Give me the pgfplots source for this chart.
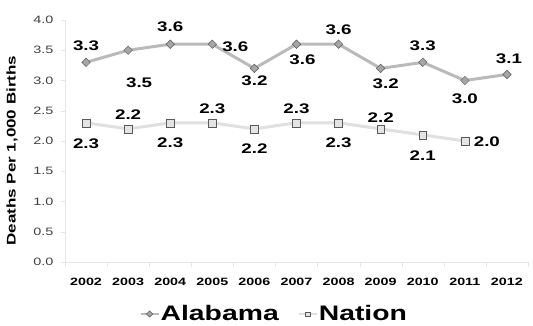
\documentclass[border=0pt]{standalone}
\usepackage{fontspec}
\setmainfont{Liberation Sans}[FakeStretch=1.35]
\usepackage{pgfplots}
\usepackage{pgfplotstable}
\pgfplotsset{compat=1.18}

\definecolor{alline}{HTML}{BABABA}
\definecolor{almark}{HTML}{A6A6A6}
\definecolor{naline}{HTML}{E0E0E0}
\definecolor{namark}{HTML}{E4E4E4}
\definecolor{markedge}{HTML}{5A5A5A}
\definecolor{axisgray}{HTML}{E6E6E6}
\definecolor{ticktext}{HTML}{404040}

% year, rate, label offset (dx, dy in bp)
\pgfplotstableread{
x    y    dx  dy
2002 3.3  0   17
2003 3.5  11  -32
2004 3.6  0   17
2005 3.6  23  -3
2006 3.2  0   -12
2007 3.6  6   -16
2008 3.6  0   14
2009 3.2  5   -15
2010 3.3  0   17
2011 3.0  0   -18
2012 3.1  2   16
}\alabama

\pgfplotstableread{
x    y    dx  dy
2002 2.3  0   -21
2003 2.2  0   14
2004 2.3  0   -20
2005 2.3  0   14
2006 2.2  0   -20
2007 2.3  0   14
2008 2.3  0   -20
2009 2.2  0   11
2010 2.1  0   -21
2011 2.0  22  -1
}\nation

\begin{document}
\begin{tikzpicture}
\path[use as bounding box] (0,0) rectangle (533bp,326bp);
\begin{axis}[
  at={(65bp,64bp)}, anchor=south west,
  width=463bp, height=242bp, scale only axis,
  xmin=2001.5, xmax=2012.5, ymin=0, ymax=4,
  axis x line*=bottom, axis y line*=left,
  axis line style={draw=axisgray, line width=0.8pt, -},
  xtick={2002,...,2012},
  minor xtick={2001.5,2002.5,2003.5,2004.5,2005.5,2006.5,2007.5,2008.5,2009.5,2010.5,2011.5,2012.5},
  ytick={0,0.5,...,4},
  tick align=outside,
  major x tick style={draw=none},
  minor x tick style={draw=axisgray},
  minor tick length=5bp,
  major y tick style={draw=axisgray},
  major tick length=4bp,
  /pgf/number format/assume math mode=true,
  xticklabel style={font=\fontsize{10.6bp}{12bp}\selectfont\bfseries, /pgf/number format/1000 sep={}, anchor=center, yshift=-16bp},
  yticklabel style={font=\fontsize{10.7bp}{12bp}\selectfont, text=ticktext, xshift=-4bp, /pgf/number format/.cd, fixed, fixed zerofill, precision=1},
  ylabel={Deaths Per 1,000 Births},
  every axis y label/.style={at={(rel axis cs:0,0.46)}, rotate=90, anchor=center, yshift=53bp, font=\fontsize{12.6bp}{15bp}\selectfont\bfseries},
  point meta=explicit,
  nodes near coords={\pgfmathprintnumber[fixed,fixed zerofill,precision=1]{\pgfplotspointmeta}},
  visualization depends on={\thisrow{dx} \as \dx},
  visualization depends on={\thisrow{dy} \as \dy},
  every node near coord/.append style={anchor=center, xshift=\dx bp, yshift=\dy bp, font=\fontsize{13.9bp}{15bp}\selectfont\bfseries, text=black, inner sep=0pt},
  legend columns=2,
  legend image code/.code={\draw[#1, line width=2pt, mark size=2.2bp, mark repeat=2, mark phase=2] plot coordinates {(0bp,0bp) (9bp,0bp) (18bp,0bp)};},
  legend style={at={(0.451,-0.215)}, anchor=center, draw=none, fill=none,
    font=\fontsize{21bp}{24bp}\selectfont\bfseries, inner sep=0pt,
    /tikz/every even column/.append style={column sep=18bp},
    nodes={inner sep=1bp}},
]
\addplot[alline, line width=3pt, mark=square*, mark size=3bp,
  mark options={rotate=45, fill=almark, draw=markedge, line width=0.5pt}]
  table[x=x, y=y, meta=y] {\alabama};
\addlegendentry{Alabama}
\addplot[naline, line width=3pt, mark=square*, mark size=3.9bp,
  mark options={fill=namark, draw=markedge, line width=0.5pt}]
  table[x=x, y=y, meta=y] {\nation};
\addlegendentry{Nation}
\end{axis}
\end{tikzpicture}
\end{document}
